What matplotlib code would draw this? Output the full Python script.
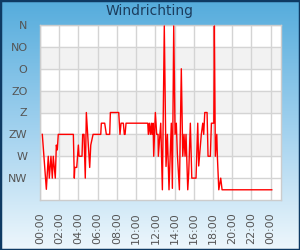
import numpy as np
import matplotlib
matplotlib.use("Agg")
import matplotlib.pyplot as plt
from matplotlib.colors import LinearSegmentedColormap
from matplotlib.patches import Rectangle

# Wind direction over the day (hours since midnight, degrees; 0 = N at the top)
hours = [0.24, 0.66, 0.86, 0.97, 1.14, 1.28, 1.38, 1.59, 1.70, 1.80, 1.90,
         3.47, 3.57, 3.62, 3.82, 3.99, 4.06, 4.37, 4.44, 4.58, 4.71, 4.82,
         5.17, 5.28, 5.52, 6.32, 6.38, 6.73, 6.90, 7.25, 7.32, 8.19, 8.32,
         8.43, 8.67, 8.77, 8.85, 8.95, 11.21, 11.27, 11.37, 11.48, 11.58,
         11.65, 11.76, 11.83, 12.00, 12.14, 12.28, 12.31, 12.56, 12.73,
         12.93, 13.11, 13.25, 13.42, 13.66, 13.77, 13.91, 14.05, 14.18,
         14.29, 14.50, 14.70, 14.85, 14.98, 15.09, 15.19, 15.37, 15.47,
         15.64, 15.79, 16.23, 16.41, 16.51, 16.78, 16.93, 17.03, 17.14,
         17.38, 17.48, 17.72, 17.83, 18.08, 18.14, 18.24, 18.39, 18.45,
         18.60, 18.80, 18.94, 24.11]
degrees = [225, 338, 270, 315, 270, 315, 270, 315, 247, 257, 225,
           225, 315, 293, 293, 247, 270, 270, 225, 225, 315, 180,
           293, 247, 225, 225, 202, 202, 225, 225, 180, 180, 225,
           202, 202, 225, 225, 202, 202, 225, 202, 225, 202,
           225, 202, 270, 180, 225, 225, 270, 202, 339,
           2, 291, 225, 339, 202, 336, 2, 225, 202,
           266, 339, 90, 270, 225, 270, 225, 339, 305,
           202, 315, 315, 202, 290, 225, 202, 225, 180,
           180, 270, 270, 202, 202, 2, 270, 225, 270,
           339, 315, 339, 339]

dir_ticks = [0, 45, 90, 135, 180, 225, 270, 315]
dir_labels = ["N", "NO", "O", "ZO", "Z", "ZW", "W", "NW"]
time_ticks = list(range(0, 25, 2))
time_labels = ["%02d:00" % (h % 24) for h in time_ticks]

fig = plt.figure(figsize=(3, 2.5), dpi=100)

# blue gradient background with dark border
bg = fig.add_axes([0, 0, 1, 1], zorder=0)
cmap = LinearSegmentedColormap.from_list("bg", ["#55acdc", "#9fd0ee", "#eef7fc"])
bg.imshow(np.linspace(0, 1, 256).reshape(-1, 1), aspect="auto", cmap=cmap,
          extent=[0, 1, 0, 1])
bg.add_patch(Rectangle((0, 0), 1, 1, transform=bg.transAxes, fill=False,
                       edgecolor="#0e3a63", linewidth=2.5))
bg.set_axis_off()

ax = fig.add_axes([40 / 300, 50 / 250, 241 / 300, 175 / 250], zorder=1)
ax.set_facecolor("white")
for lo in (45, 135, 225):
    ax.axhspan(lo, lo + 45, color="#f2f2f2", zorder=0)

ax.plot(hours, degrees, color="red", linewidth=1, zorder=3)

ax.set_xlim(0, 25.07)
ax.set_ylim(360, 0)
ax.set_yticks(dir_ticks)
ax.set_yticklabels(dir_labels)
ax.set_xticks(time_ticks)
ax.set_xticklabels(time_labels, rotation=90, ha="center", va="top")
ax.tick_params(length=0, labelsize=8, labelcolor="#555555")
ax.tick_params(axis="y", pad=9)
ax.tick_params(axis="x", pad=9)
ax.grid(True, color="#d4d4d4", linewidth=1, zorder=1)
ax.set_axisbelow(True)
for s in ax.spines.values():
    s.set_color("#cccccc")
    s.set_linewidth(1)

fig.text(0.497, 1 - 11 / 250, "Windrichting", ha="center", va="center",
         fontsize=10, color="#1c3d5e")

fig.savefig("out.png", dpi=100)
